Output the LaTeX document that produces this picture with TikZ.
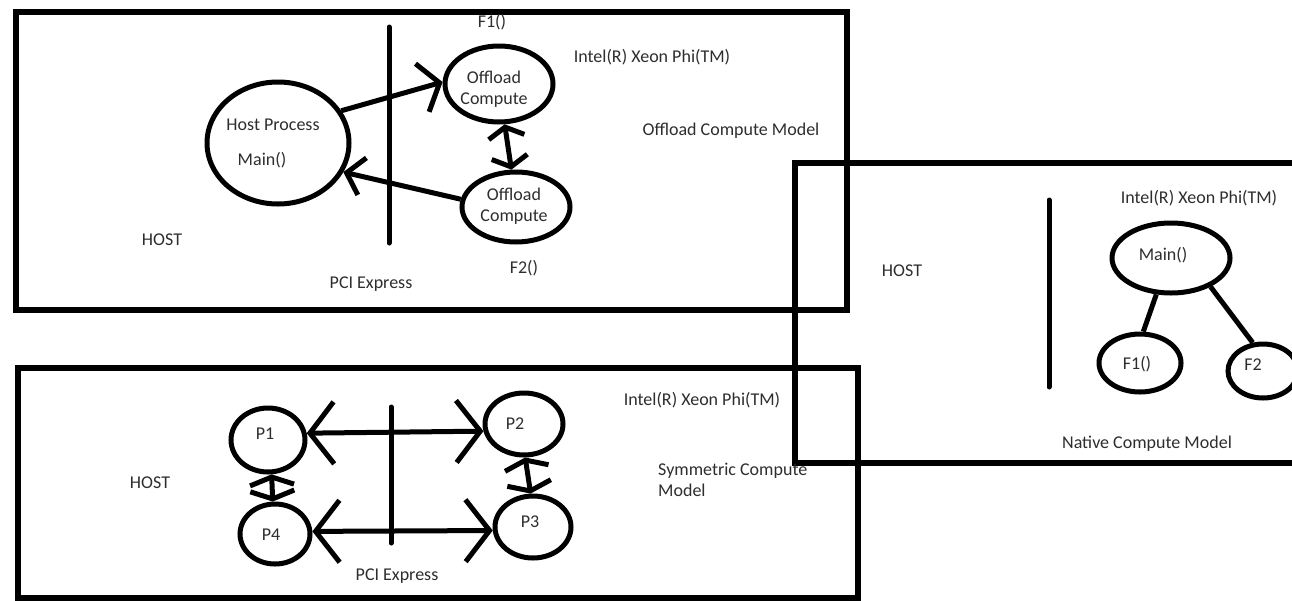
\documentclass[tikz,border=0pt]{standalone}
\usepackage{fontspec}
\setmainfont{Carlito}
\usetikzlibrary{shapes.geometric,arrows.meta}
\begin{document}
\begin{tikzpicture}[x=1pt,y=-1pt,
  frame/.style={line width=6.5pt},
  proc/.style={ellipse,draw,line width=5pt,inner sep=0pt},
  lbl/.style={font=\fontsize{18}{21}\selectfont,inner sep=0pt,text=black!82},
  link/.style={line width=5pt},
  bus/.style={line width=5pt,line cap=round},
  fwdhead/.style={-{Straight Barb[length=18pt,width=50pt]}},
  backhead/.style={-{Straight Barb[length=16pt,width=38pt]}},
  vdbl/.style={{Straight Barb[length=10pt,width=36pt]}-{Straight Barb[length=10pt,width=36pt]}},
  hdbl/.style={{Straight Barb[length=24pt,width=62pt]}-{Straight Barb[length=24pt,width=62pt]}},
  sdbl/.style={{Straight Barb[length=8pt,width=44pt]}-{Straight Barb[length=8pt,width=44pt]}}
]
\fill[white] (0,0) rectangle (1292,600);
\clip (0,0) rectangle (1292,600);

% frames
\draw[frame] (16,12) rectangle (847,310);
\draw[frame] (795,163) rectangle (1305,463);
\draw[frame] (18,368) rectangle (858,598);

% ---------- Offload Compute Model ----------
\draw[bus] (389,27) -- (389,243);
\node[proc,minimum width=142pt,minimum height=122pt] (host) at (278,143) {};
\node[lbl] (hostt) at (273,125) {Host Process};
\node[lbl] (hostm) at (262,160) {Main()};
\node[proc,minimum width=108pt,minimum height=76pt] (off1) at (499,84) {};
\node[lbl,align=center] (off1t) at (494,89) {Offload\\Compute};
\node[proc,minimum width=108pt,minimum height=70pt] (off2) at (516,207) {};
\node[lbl,align=center] (off2t) at (514,206) {Offload\\Compute};
\node[lbl] (f1a) at (492,22) {F1()};
\node[lbl] (f2a) at (524,268) {F2()};
\node[lbl] (intel1) at (652,57) {Intel(R) Xeon Phi(TM)};
\node[lbl] (model1) at (731,131) {Offload Compute Model};
\node[lbl] (host1) at (162,240) {HOST};
\node[lbl] (pci1) at (371,284) {PCI Express};
\draw[link,fwdhead] (host.27) -- (off1.178);
\draw[link,backhead] (off2.172) -- (host.-24);
\draw[link,vdbl] (off1.-82) -- (off2.97);

% ---------- Native Compute Model ----------
\draw[bus] (1049,200) -- (1049,387);
\node[proc,minimum width=118pt,minimum height=70pt] (nmain) at (1171,258) {};
\node[lbl] (nmaint) at (1163,255) {Main()};
\node[proc,minimum width=82pt,minimum height=58pt] (nf1) at (1140,363) {};
\node[lbl] (nf1t) at (1137,364) {F1()};
\node[proc,minimum width=70pt,minimum height=54pt] (nf2) at (1263,371) {};
\node[lbl] (nf2t) at (1253,365) {F2};
\draw[link] (nmain.-112) -- (nf1.84);
\draw[link] (nmain.-36) -- (nf2.110);
\node[lbl] (intel2) at (1199,198) {Intel(R) Xeon Phi(TM)};
\node[lbl] (host2) at (902,271) {HOST};
\node[lbl] (model2) at (1147,444) {Native Compute Model};

% ---------- Symmetric Compute Model ----------
\draw[bus] (391,407) -- (391,543);
\node[proc,minimum width=74pt,minimum height=64pt] (p1) at (268,440) {};
\node[lbl] (p1t) at (265,434) {P1};
\node[proc,minimum width=78pt,minimum height=62pt] (p2) at (524,424) {};
\node[lbl] (p2t) at (515,424) {P2};
\node[proc,minimum width=76pt,minimum height=62pt] (p3) at (533,527) {};
\node[lbl] (p3t) at (530,522) {P3};
\node[proc,minimum width=70pt,minimum height=60pt] (p4) at (275,534) {};
\node[lbl] (p4t) at (271,535) {P4};
\draw[link,hdbl] (p1.10) -- (p2.190);
\draw[link,hdbl] (p4.4) -- (p3.185);
\draw[link,sdbl] (p1.-84) -- (p4.94);
\draw[link,sdbl] (p2.-88) -- (p3.94);
\node[lbl] (intel3) at (702,400) {Intel(R) Xeon Phi(TM)};
\node[lbl,align=left,anchor=west] (model3) at (658,480) {Symmetric Compute\\Model};
\node[lbl] (host3) at (150,483) {HOST};
\node[lbl] (pci3) at (397,576) {PCI Express};
\end{tikzpicture}
\end{document}
